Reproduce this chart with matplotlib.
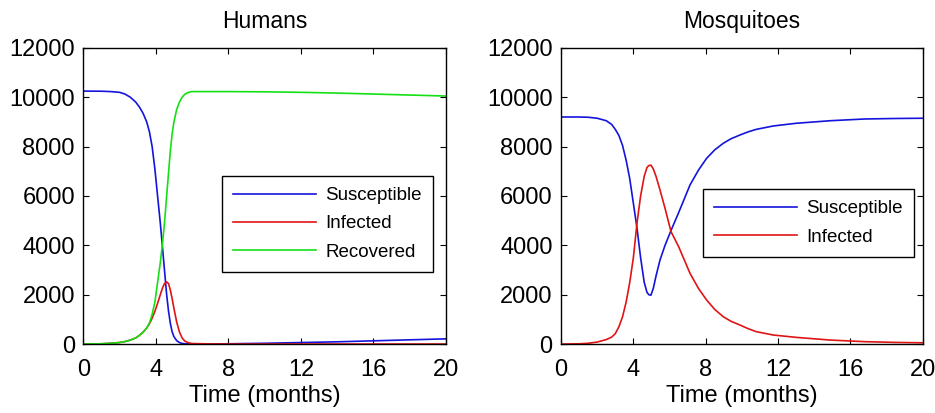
import numpy as np
import matplotlib
matplotlib.use("Agg")
import matplotlib.pyplot as plt

plt.rcParams['font.family'] = ['Liberation Sans', 'DejaVu Sans']

# ==========================================
# Data
# ==========================================

# Humans
h_time = [0, 1, 1.5, 2, 2.3, 2.6, 2.9, 3.1, 3.3, 3.5, 3.65, 3.8, 3.95, 4.1, 4.25, 4.36,
          4.48, 4.6, 4.7, 4.8, 4.9, 5.0, 5.15, 5.3, 5.45, 5.6, 5.8, 6, 7, 8, 10, 12,
          14, 16, 18, 20]
h_susceptible = [10250, 10245, 10230, 10200, 10130, 10000, 9800, 9600, 9350, 9000, 8600,
                 8000, 7100, 6000, 4900, 4000, 3000, 2000, 1350, 850, 500, 300, 140, 60,
                 25, 10, 5, 0, 0, 10, 30, 60, 90, 130, 170, 210]
h_infected = [0, 10, 30, 60, 100, 160, 250, 350, 480, 650, 820, 1050, 1320, 1650, 2000,
              2250, 2450, 2520, 2450, 2200, 1850, 1450, 900, 500, 250, 120, 50, 20, 5,
              0, 0, 0, 0, 0, 0, 0]
h_recovered = [0, 10, 30, 60, 100, 160, 250, 350, 480, 650, 850, 1200, 1700, 2500, 3300,
               4000, 4900, 6000, 6900, 7800, 8500, 9000, 9500, 9800, 10000, 10120, 10200,
               10230, 10230, 10230, 10220, 10200, 10170, 10130, 10090, 10050]

# Mosquitoes
m_time = [0, 1, 1.5, 2, 2.5, 2.8, 3.0, 3.2, 3.4, 3.6, 3.8, 4.0, 4.2, 4.4, 4.6, 4.75,
          4.85, 4.97, 5.1, 5.25, 5.47, 5.75, 6.08, 6.5, 7.13, 7.6, 8.05, 8.5, 8.97,
          9.4, 9.89, 10.35, 10.8, 11.73, 13.0, 14.9, 16.8, 18.5, 20]
m_susceptible = [9200, 9200, 9190, 9150, 9050, 8900, 8700, 8450, 8050, 7450, 6700, 5700,
                 4700, 3500, 2500, 2100, 2000, 1980, 2250, 2750, 3400, 4000, 4600, 5320,
                 6445, 7050, 7527, 7870, 8135, 8320, 8470, 8600, 8700, 8836, 8946, 9050,
                 9120, 9140, 9150]
m_infected = [0, 10, 30, 80, 180, 280, 420, 700, 1100, 1700, 2500, 3500, 4900, 6000,
              6800, 7150, 7230, 7250, 7100, 6800, 6250, 5500, 4554, 3950, 2866, 2250,
              1783, 1400, 1107, 920, 770, 620, 500, 365, 270, 160, 95, 65, 50]

# ==========================================
# Plot
# ==========================================

fig = plt.figure(figsize=(9.35, 4.13), dpi=100)
ax1 = fig.add_axes([0.089, 0.167, 0.388, 0.717])
ax2 = fig.add_axes([0.600, 0.167, 0.387, 0.717])

blue, red, green = '#1414dc', '#e01414', '#14e014'

ax1.plot(h_time, h_susceptible, color=blue, lw=1.2, label='Susceptible')
ax1.plot(h_time, h_infected, color=red, lw=1.2, label='Infected')
ax1.plot(h_time, h_recovered, color=green, lw=1.2, label='Recovered')
ax1.set_title('Humans', fontsize=16.5, pad=14)

ax2.plot(m_time, m_susceptible, color=blue, lw=1.2, label='Susceptible')
ax2.plot(m_time, m_infected, color=red, lw=1.2, label='Infected')
ax2.set_title('Mosquitoes', fontsize=16.5, pad=14)

legend_pos = {ax1: (0.964, 0.243), ax2: (0.975, 0.294)}
for ax in (ax1, ax2):
    ax.set_xlim(0, 20)
    ax.set_ylim(0, 12000)
    ax.set_xticks([0, 4, 8, 12, 16, 20])
    ax.set_yticks(range(0, 12001, 2000))
    ax.tick_params(direction='in', top=True, right=True, labelsize=17, length=4, pad=6)
    ax.tick_params(axis='x', pad=11)
    ax.set_xlabel('Time (months)', fontsize=17, labelpad=3)
    for s in ax.spines.values():
        s.set_linewidth(1.0)
    leg = ax.legend(loc='lower right', bbox_to_anchor=legend_pos[ax], borderaxespad=0,
                    fontsize=13.5, fancybox=False, edgecolor='black', framealpha=1,
                    handlelength=4.4, borderpad=0.6, labelspacing=0.6, handletextpad=0.5)
    leg.get_frame().set_linewidth(1.0)

fig.savefig('out.png', dpi=100)
